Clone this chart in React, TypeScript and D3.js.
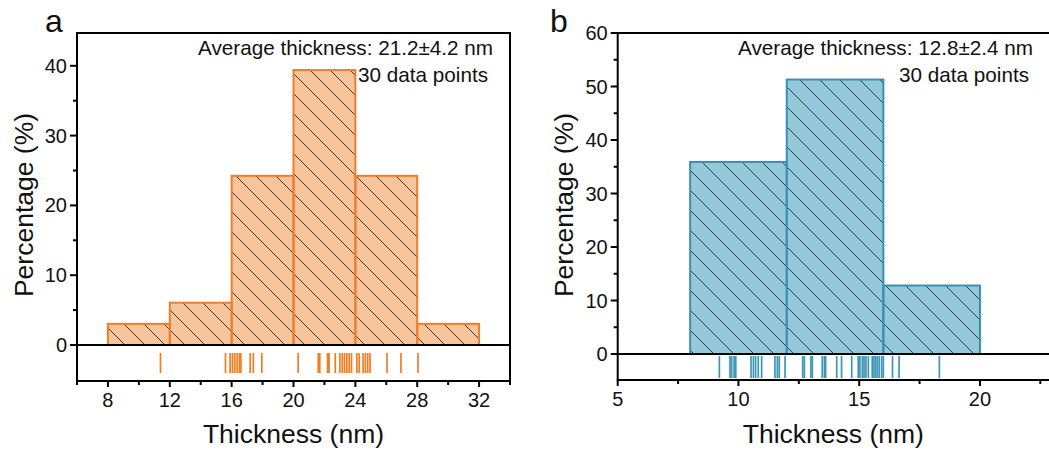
import React from "react";
import * as d3 from "d3";

// Panel a data
const binsA = [8, 12, 16, 20, 24, 28, 32];
const pctA = [3.03, 6.06, 24.24, 39.39, 24.24, 3.03];
const rugA = [11.4, 15.6, 15.9, 16.05, 16.2, 16.35, 16.5, 16.6, 17.2, 17.4, 17.95,
  20.3, 21.6, 21.7, 22.2, 22.25, 22.3, 22.7, 23.0, 23.15, 23.3, 23.45, 23.6, 23.75,
  24.1, 24.25, 24.5, 24.65, 24.8, 24.95, 26.05, 26.95, 28.05];
const xTicksA = [8, 12, 16, 20, 24, 28, 32];
const xMinorA = [6, 10, 14, 18, 22, 26, 30, 34];
const yTicksA = [0, 10, 20, 30, 40];
const yMinorA = [5, 15, 25, 35];

// Panel b data
const binsB = [8, 12, 16, 20];
const pctB = [35.9, 51.3, 12.8];
const rugB = [9.21, 9.65, 9.72, 9.82, 9.89, 10.52, 10.62, 10.71, 10.82, 10.96, 11.51, 11.61, 11.69, 11.93,
  12.66, 12.73, 13.0, 13.06, 13.47, 13.56, 13.61, 14.07, 14.27, 14.69, 14.96, 15.03, 15.13, 15.2, 15.28, 15.38,
  15.54, 15.61, 15.68, 15.75, 15.83, 15.93, 16.0, 16.38, 16.65, 18.32];
const xTicksB = [5, 10, 15, 20];
const xMinorB = [7.5, 12.5, 17.5, 22.5];
const yTicksB = [0, 10, 20, 30, 40, 50, 60];
const yMinorB = [5, 15, 25, 35, 45, 55];

const FONT = "Arial, 'Liberation Sans', sans-serif";

type PanelProps = {
  id: string;
  letter: string;
  letterX: number;
  left: number;
  right: number;
  top: number;
  mid: number;
  bottom: number;
  xDomain: [number, number];
  yDomain: [number, number];
  bins: number[];
  pct: number[];
  rug: number[];
  rugTop: number;
  rugBottom: number;
  xTicks: number[];
  xMinor: number[];
  yTicks: number[];
  yMinor: number[];
  fill: string;
  stroke: string;
  rugColor: string;
  avg: string;
  avgX: number;
  ptsX: number;
  ylabelX: number;
  showRight: boolean;
};

function Panel(p: PanelProps) {
  const x = d3.scaleLinear().domain(p.xDomain).range([p.left, p.right]);
  const y = d3.scaleLinear().domain(p.yDomain).range([p.mid, p.top]);
  const cx = (p.left + Math.min(p.right, 1049)) / 2;
  return (
    <g>
      <defs>
        <pattern id={"hatch" + p.id} patternUnits="userSpaceOnUse" width={20} height={20}>
          <path d="M-5,-5 L25,25 M-5,15 L5,25 M15,-5 L25,5" stroke="#2a2a2a" strokeWidth={0.9} />
        </pattern>
      </defs>
      {p.pct.map((v, i) => (
        <g key={i}>
          <rect x={x(p.bins[i])} y={y(v)} width={x(p.bins[i + 1]) - x(p.bins[i])} height={y(0) - y(v)} fill={p.fill} />
          <rect x={x(p.bins[i])} y={y(v)} width={x(p.bins[i + 1]) - x(p.bins[i])} height={y(0) - y(v)} fill={`url(#hatch${p.id})`} />
        </g>
      ))}
      {p.pct.map((v, i) => (
        <rect key={"s" + i} x={x(p.bins[i])} y={y(v)} width={x(p.bins[i + 1]) - x(p.bins[i])} height={y(0) - y(v)}
          fill="none" stroke={p.stroke} strokeWidth={2} />
      ))}
      {p.rug.map((v, i) => (
        <line key={"r" + i} x1={x(v)} x2={x(v)} y1={p.rugTop} y2={p.rugBottom} stroke={p.rugColor} strokeWidth={1.7} />
      ))}
      <line x1={p.left} x2={p.right} y1={p.top} y2={p.top} stroke="#000" strokeWidth={2} />
      <line x1={p.left} x2={p.right} y1={p.mid} y2={p.mid} stroke="#000" strokeWidth={2} />
      <line x1={p.left} x2={p.right} y1={p.bottom} y2={p.bottom} stroke="#000" strokeWidth={2} />
      <line x1={p.left} x2={p.left} y1={p.top - 1} y2={p.bottom + 1} stroke="#000" strokeWidth={2} />
      {p.showRight && <line x1={p.right} x2={p.right} y1={p.top - 1} y2={p.bottom + 1} stroke="#000" strokeWidth={2} />}
      {p.yTicks.map((t) => (
        <g key={"yt" + t}>
          <line x1={p.left - 7} x2={p.left} y1={y(t)} y2={y(t)} stroke="#000" strokeWidth={2} />
          <text x={p.left - 10} y={y(t)} dy="0.35em" textAnchor="end" fontSize={20} fontFamily={FONT} fill="#111">{t}</text>
        </g>
      ))}
      {p.yMinor.map((t) => (
        <line key={"ym" + t} x1={p.left - 4} x2={p.left} y1={y(t)} y2={y(t)} stroke="#000" strokeWidth={2} />
      ))}
      {p.xTicks.map((t) => (
        <g key={"xt" + t}>
          <line x1={x(t)} x2={x(t)} y1={p.bottom} y2={p.bottom + 6} stroke="#000" strokeWidth={2} />
          <text x={x(t)} y={p.bottom + 26} textAnchor="middle" fontSize={20} fontFamily={FONT} fill="#111">{t}</text>
        </g>
      ))}
      {p.xMinor.map((t) => (
        <line key={"xm" + t} x1={x(t)} x2={x(t)} y1={p.bottom} y2={p.bottom + 4} stroke="#000" strokeWidth={2} />
      ))}
      <text x={cx} y={443} textAnchor="middle" fontSize={26.5} fontFamily={FONT} fill="#111">Thickness (nm)</text>
      <text transform={`translate(${p.ylabelX},${205}) rotate(-90)`} textAnchor="middle" fontSize={26.5} fontFamily={FONT} fill="#111">Percentage (%)</text>
      <text x={p.letterX} y={32} fontSize={32} fontFamily={FONT} fill="#111">{p.letter}</text>
      <text x={p.avgX} y={55} textAnchor="end" fontSize={20.7} fontFamily={FONT} fill="#111">{p.avg}</text>
      <text x={p.ptsX} y={82} textAnchor="end" fontSize={20.7} fontFamily={FONT} fill="#111">30 data points</text>
    </g>
  );
}

export default function App() {
  return (
    <svg width={1049} height={453} style={{ position: "absolute", left: 0, top: 0, background: "#fff" }}>
      <Panel id="a" letter="a" letterX={45} left={77} right={510} top={33} mid={345} bottom={381}
        xDomain={[6, 34]} yDomain={[0, 44.7]} bins={binsA} pct={pctA} rug={rugA} rugTop={353} rugBottom={373}
        xTicks={xTicksA} xMinor={xMinorA} yTicks={yTicksA} yMinor={yMinorA}
        fill="#F8C49B" stroke="#EE7D2C" rugColor="#EF7F22"
        avg="Average thickness: 21.2±4.2 nm" avgX={493} ptsX={488} ylabelX={33} showRight={true} />
      <Panel id="b" letter="b" letterX={550} left={617.7} right={1052.4} top={33} mid={354} bottom={380}
        xDomain={[5, 23]} yDomain={[0, 60]} bins={binsB} pct={pctB} rug={rugB} rugTop={356} rugBottom={378}
        xTicks={xTicksB} xMinor={xMinorB} yTicks={yTicksB} yMinor={yMinorB}
        fill="#93C9DA" stroke="#3A8FB2" rugColor="#3F95B6"
        avg="Average thickness: 12.8±2.4 nm" avgX={1033} ptsX={1029} ylabelX={573} showRight={false} />
    </svg>
  );
}
